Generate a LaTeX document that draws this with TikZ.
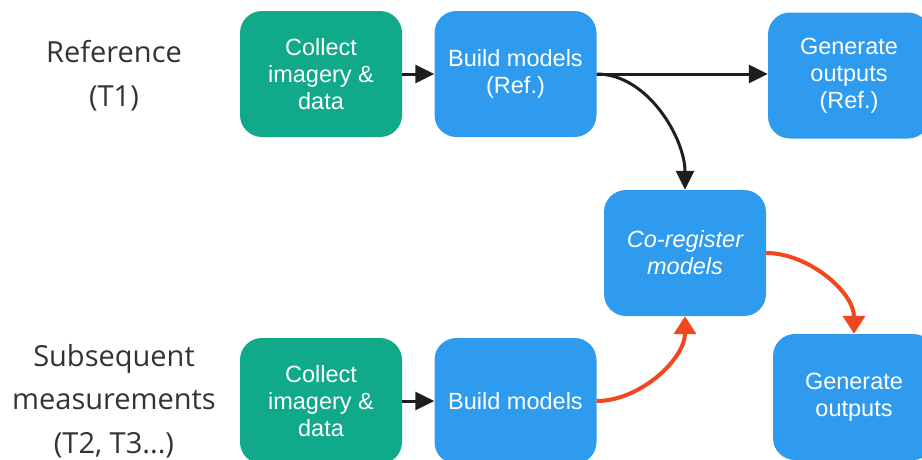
\documentclass[tikz,border=0pt]{standalone}
\usepackage{fontspec}
\setmainfont{Liberation Sans}
\newfontfamily\labelfont{Open Sans}
\usetikzlibrary{arrows.meta}
\definecolor{boxgreen}{HTML}{10A98A}
\definecolor{boxblue}{HTML}{2E9BEF}
\definecolor{arrred}{HTML}{F2461E}
\definecolor{labgray}{HTML}{333333}
\definecolor{arrblack}{HTML}{1E1E1E}
\tikzset{
  stepbox/.style={rounded corners=22pt, minimum width=162pt, minimum height=126pt,
    inner sep=0pt, text=white, align=center,
    font=\fontsize{23.5}{27}\selectfont},
  greenbox/.style={stepbox, fill=boxgreen},
  bluebox/.style={stepbox, fill=boxblue},
  rowlabel/.style={text=labgray, align=center, font=\labelfont\fontsize{29}{43.5}\selectfont},
  blackarr/.style={draw=arrblack, line width=3pt, -{Triangle[length=19pt,width=18pt]}},
  redarr/.style={draw=arrred, line width=4pt, -{Triangle[length=18pt,width=22pt]}}
}
\begin{document}
\begin{tikzpicture}[x=1pt,y=-1pt]
\useasboundingbox (0,0) rectangle (922,459);
\begin{scope}
\clip (0,0) rectangle (922,459);
\node[rowlabel] (lab1) at (114,75.5) {Reference\\(T1)};
\node[rowlabel] (lab2) at (114,401) {Subsequent\\measurements\\(T2, T3...)};

\node[greenbox] (col1) at (321,74) {Collect\\imagery \&\\data};
\node[bluebox] (bld1) at (515.5,74) {Build models\\(Ref.)};
\node[bluebox] (gen1) at (849,75.5) {Generate\\outputs\\(Ref.)};
\node[bluebox] (coreg) at (685,253) {\itshape Co-register\\\itshape models};
\node[greenbox] (col2) at (321,401) {Collect\\imagery \&\\data};
\node[bluebox] (bld2) at (515.5,401) {Build models};
\node[bluebox] (gen2) at (854,397) {Generate\\outputs};

\draw[blackarr] (col1.east) -- (bld1.west);
\draw[blackarr] (col2.east) -- (bld2.west);
\draw[blackarr] (bld1.east) -- (gen1.west |- bld1.east);
\draw[blackarr] (bld1.east) to[out=0,in=90,looseness=0.9] (coreg.north);
\draw[redarr] (bld2.east) to[out=0,in=-90,looseness=0.9] (coreg.south);
\draw[redarr] (coreg.east) to[out=0,in=90,looseness=0.9] (gen2.north);
\end{scope}
\end{tikzpicture}
\end{document}
